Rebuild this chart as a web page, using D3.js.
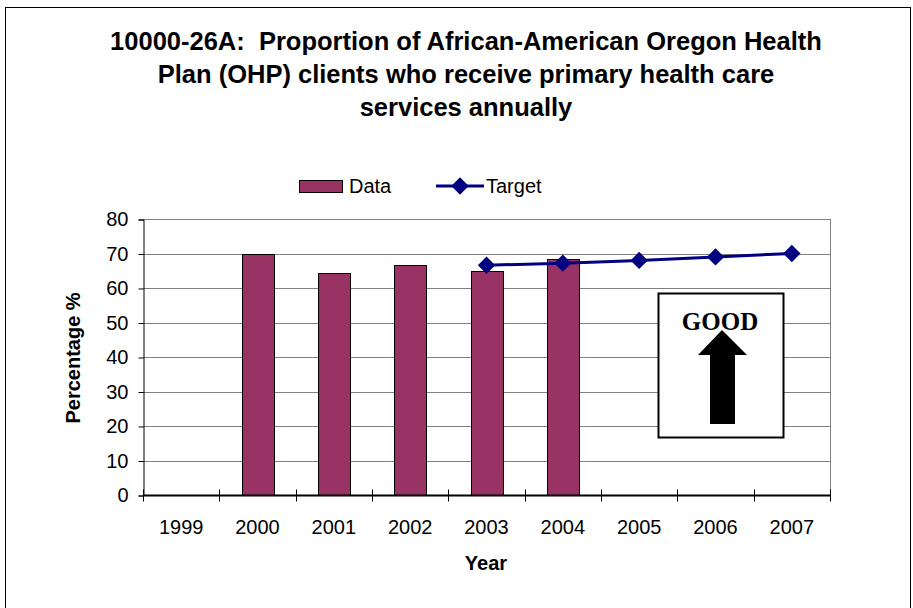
<!DOCTYPE html>
<html>
<head>
<meta charset="utf-8">
<script src="https://cdn.jsdelivr.net/npm/d3@7"></script>
<style>
body { margin: 0; background: #fff; }
</style>
</head>
<body>
<svg width="913" height="608"></svg>
<script>
// chart data
var years = ["1999", "2000", "2001", "2002", "2003", "2004", "2005", "2006", "2007"];
var dataYears = ["2000", "2001", "2002", "2003", "2004"];
var dataValues = [70, 64.3, 66.7, 64.8, 68.4];
var targetYears = ["2003", "2004", "2005", "2006", "2007"];
var targetValues = [66.6, 67.2, 68.0, 69.0, 70.0];
var yTicks = [0, 10, 20, 30, 40, 50, 60, 70, 80];
var titleLines = ["10000-26A:  Proportion of African-American Oregon Health",
                  "Plan (OHP) clients who receive primary health care",
                  "services annually"];

var sans = "'Liberation Sans', Arial, sans-serif";
var svg = d3.select("svg");

// outer frame
svg.append("rect")
    .attr("x", 5.5).attr("y", 7.5)
    .attr("width", 905).attr("height", 620)
    .attr("fill", "none").attr("stroke", "#000").attr("stroke-width", 1);

var pLeft = 143, pRight = 830, pTop = 219, pBottom = 495;

var x = d3.scaleBand().domain(years).range([pLeft, pRight]);
var y = d3.scaleLinear().domain([0, 80]).range([pBottom, pTop]);

// title
svg.append("g").selectAll("text")
    .data(titleLines)
    .enter().append("text")
      .attr("x", 466)
      .attr("y", function(d, i) { return 50 + i * 33; })
      .attr("text-anchor", "middle")
      .style("font-family", sans)
      .style("white-space", "pre")
      .attr("font-size", "25.5px")
      .attr("font-weight", "bold")
      .text(function(d) { return d; });

// gridlines
svg.append("g")
  .selectAll("line")
  .data(yTicks.filter(function(d) { return d > 0; }))
  .enter().append("line")
    .attr("x1", pLeft).attr("x2", pRight)
    .attr("y1", function(d) { return Math.round(y(d)) + 0.5; })
    .attr("y2", function(d) { return Math.round(y(d)) + 0.5; })
    .attr("stroke", "#808080").attr("stroke-width", 1);

svg.append("line")
    .attr("x1", pRight + 0.5).attr("x2", pRight + 0.5)
    .attr("y1", pTop).attr("y2", pBottom)
    .attr("stroke", "#808080");

// bars
var barW = 32;
svg.append("g").selectAll("rect")
    .data(dataValues)
    .enter().append("rect")
      .attr("x", function(d, i) { return Math.round(x(dataYears[i]) + x.bandwidth() / 2 - barW / 2) + 0.5; })
      .attr("y", function(d) { return Math.round(y(d)) + 0.5; })
      .attr("width", barW)
      .attr("height", function(d) { return pBottom - Math.round(y(d)); })
      .attr("fill", "#993366")
      .attr("stroke", "#000").attr("stroke-width", 1);

// y axis
var yAxis = svg.append("g")
    .attr("transform", "translate(" + (pLeft + 0.5) + ",0.5)")
    .call(d3.axisLeft(y).tickValues(yTicks).tickSize(5).tickPadding(10));
yAxis.select(".domain").attr("stroke", "#000");
yAxis.selectAll(".tick line").attr("stroke", "#000");
yAxis.selectAll("text").attr("font-size", "20px").attr("fill", "#000")
    .style("font-family", sans);

// x axis
var xAxis = svg.append("g")
    .attr("transform", "translate(0," + (pBottom + 0.5) + ")");
xAxis.append("line")
    .attr("x1", pLeft).attr("x2", pRight + 1)
    .attr("stroke", "#000").attr("stroke-width", 2);
xAxis.selectAll("line.tick")
    .data(years.concat(["end"]))
    .enter().append("line")
      .attr("class", "tick")
      .attr("x1", function(d, i) { return Math.round(pLeft + i * x.bandwidth()) + 0.5; })
      .attr("x2", function(d, i) { return Math.round(pLeft + i * x.bandwidth()) + 0.5; })
      .attr("y1", -6).attr("y2", 6)
      .attr("stroke", "#000");
xAxis.selectAll("text")
    .data(years)
    .enter().append("text")
      .attr("x", function(d) { return x(d) + x.bandwidth() / 2; })
      .attr("y", 38)
      .attr("text-anchor", "middle")
      .style("font-family", sans)
      .attr("font-size", "20px")
      .text(function(d) { return d; });

// axis titles
svg.append("text")
    .attr("x", 486).attr("y", 570)
    .attr("text-anchor", "middle")
    .style("font-family", sans)
    .attr("font-size", "20px").attr("font-weight", "bold")
    .text("Year");
svg.append("text")
    .attr("transform", "translate(80,358) rotate(-90)")
    .attr("text-anchor", "middle")
    .style("font-family", sans)
    .attr("font-size", "20px").attr("font-weight", "bold")
    .text("Percentage %");

// target line
var line = d3.line()
    .x(function(d, i) { return x(targetYears[i]) + x.bandwidth() / 2; })
    .y(function(d) { return y(d); });
svg.append("path")
    .datum(targetValues)
    .attr("d", line)
    .attr("fill", "none")
    .attr("stroke", "#000080").attr("stroke-width", 3);

var diamond = d3.symbol().type(d3.symbolSquare).size(150);
svg.append("g").selectAll("path")
    .data(targetValues)
    .enter().append("path")
      .attr("d", diamond)
      .attr("transform", function(d, i) {
        return "translate(" + (x(targetYears[i]) + x.bandwidth() / 2) + "," + y(d) + ") rotate(45)";
      })
      .attr("fill", "#000080");

// legend
var legend = svg.append("g");
legend.append("rect")
    .attr("x", 299.5).attr("y", 180.5).attr("width", 43).attr("height", 12)
    .attr("fill", "#993366").attr("stroke", "#000");
legend.append("text")
    .attr("x", 349).attr("y", 193)
    .style("font-family", sans)
    .attr("font-size", "20px").text("Data");
legend.append("line")
    .attr("x1", 436).attr("x2", 484).attr("y1", 186).attr("y2", 186)
    .attr("stroke", "#000080").attr("stroke-width", 3);
legend.append("path")
    .attr("d", diamond)
    .attr("transform", "translate(460,186) rotate(45)")
    .attr("fill", "#000080");
legend.append("text")
    .attr("x", 486).attr("y", 193)
    .style("font-family", sans)
    .attr("font-size", "20px").text("Target");

// GOOD box
var good = svg.append("g");
good.append("rect")
    .attr("x", 658.5).attr("y", 293.5).attr("width", 125).attr("height", 144)
    .attr("fill", "#fff").attr("stroke", "#000").attr("stroke-width", 2);
good.append("text")
    .attr("x", 720).attr("y", 330)
    .attr("text-anchor", "middle")
    .style("font-family", "'Liberation Serif', 'Times New Roman', serif")
    .attr("font-size", "25px").attr("font-weight", "bold")
    .text("GOOD");
good.append("path")
    .attr("d", "M722,330 L747,355 L735,355 L735,424 L710,424 L710,355 L698,355 Z")
    .attr("fill", "#000");
</script>
</body>
</html>
